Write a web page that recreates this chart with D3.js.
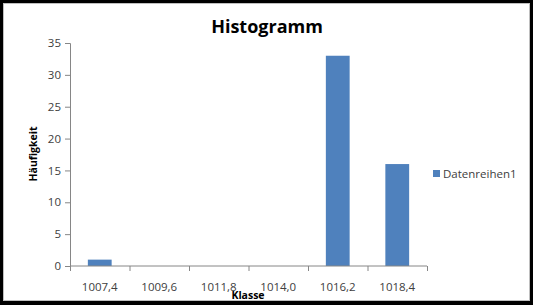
<!DOCTYPE html>
<html>
<head>
<meta charset="utf-8">
<script src="https://cdn.jsdelivr.net/npm/d3@7"></script>
<style>
  html, body { margin: 0; padding: 0; background: #000; }
  svg { display: block; }
</style>
</head>
<body>
<svg id="chart"></svg>
<script>
const classes = ["1007,4", "1009,6", "1011,8", "1014,0", "1016,2", "1018,4"];
const counts = [1, 0, 0, 0, 33, 16];
const yTicks = [0, 5, 10, 15, 20, 25, 30, 35];
const seriesName = "Datenreihen1";

const drawWidth = 533;
const drawHeight = 305;
const margin = { top: 43, right: 106, bottom: 39, left: 70 };
const width = 427 - margin.left;
const height = 266 - margin.top;

const barColor = "#4f81bd";
const axisColor = "#868686";
const textColor = "#404040";
const font = "'Open Sans', sans-serif";

const svg = d3.select("#chart")
  .attr("width", drawWidth)
  .attr("height", drawHeight);

svg.append("rect")
  .attr("x", 0).attr("y", 0)
  .attr("width", drawWidth).attr("height", drawHeight)
  .attr("fill", "#000");

svg.append("rect")
  .attr("x", 3.5).attr("y", 3.5)
  .attr("width", 526).attr("height", 297)
  .attr("fill", "#fff")
  .attr("stroke", "#bfbfbf");

svg.append("text")
  .attr("x", 267)
  .attr("y", 33)
  .attr("text-anchor", "middle")
  .style("font-family", font)
  .style("font-weight", "bold")
  .style("font-size", "18px")
  .attr("fill", "#000")
  .text("Histogramm");

const g = svg.append("g")
  .attr("transform", "translate(" + margin.left + "," + margin.top + ")");

const xScale = d3.scaleBand()
  .domain(classes)
  .range([0, width])
  .paddingInner(0.6)
  .paddingOuter(0.3);

const xEdge = d3.scaleLinear().domain([0, classes.length]).range([0, width]);

const yScale = d3.scaleLinear()
  .domain([0, 35])
  .range([height, 0]);

const yAxis = d3.axisLeft(yScale).tickValues(yTicks).tickSize(5).tickPadding(4);
const yG = g.append("g").call(yAxis);
yG.select(".domain").attr("stroke", axisColor);
yG.selectAll(".tick line").attr("stroke", axisColor);
yG.selectAll(".tick text")
  .attr("fill", textColor)
  .style("font-family", font)
  .style("font-size", "11.5px");

g.selectAll(".bar")
  .data(counts)
  .enter()
  .append("rect")
  .attr("class", "bar")
  .attr("x", (d, i) => xScale(classes[i]))
  .attr("y", (d) => yScale(d))
  .attr("width", xScale.bandwidth())
  .attr("height", (d) => height - yScale(d))
  .attr("fill", barColor);

// x axis with ticks at category boundaries
const xG = g.append("g").attr("transform", "translate(0," + height + ")");
xG.append("line")
  .attr("x1", 0).attr("x2", width)
  .attr("stroke", axisColor);
xG.selectAll(".edge")
  .data(d3.range(classes.length + 1))
  .enter()
  .append("line")
  .attr("x1", (d) => xEdge(d) + 0.5)
  .attr("x2", (d) => xEdge(d) + 0.5)
  .attr("y1", 0).attr("y2", 5)
  .attr("stroke", axisColor);
xG.selectAll(".lbl")
  .data(classes)
  .enter()
  .append("text")
  .attr("x", (d) => xScale(d) + xScale.bandwidth() / 2)
  .attr("y", 25)
  .attr("text-anchor", "middle")
  .attr("fill", textColor)
  .style("font-family", font)
  .style("font-size", "11.5px")
  .text((d) => d);

svg.append("text")
  .attr("x", 248)
  .attr("y", 299)
  .attr("text-anchor", "middle")
  .style("font-family", font)
  .style("font-weight", "bold")
  .style("font-size", "10.5px")
  .attr("fill", "#000")
  .text("Klasse");

svg.append("text")
  .attr("transform", "translate(37,154) rotate(-90)")
  .attr("text-anchor", "middle")
  .style("font-family", font)
  .style("font-weight", "bold")
  .style("font-size", "10.5px")
  .attr("fill", "#000")
  .text("Häufigkeit");

// legend
const legend = svg.append("g").attr("transform", "translate(433,170)");
legend.append("rect")
  .attr("width", 7).attr("height", 7)
  .attr("fill", barColor);
legend.append("text")
  .attr("x", 10)
  .attr("y", 7.5)
  .attr("fill", textColor)
  .style("font-family", font)
  .style("font-size", "11.5px")
  .text(seriesName);
</script>
</body>
</html>
